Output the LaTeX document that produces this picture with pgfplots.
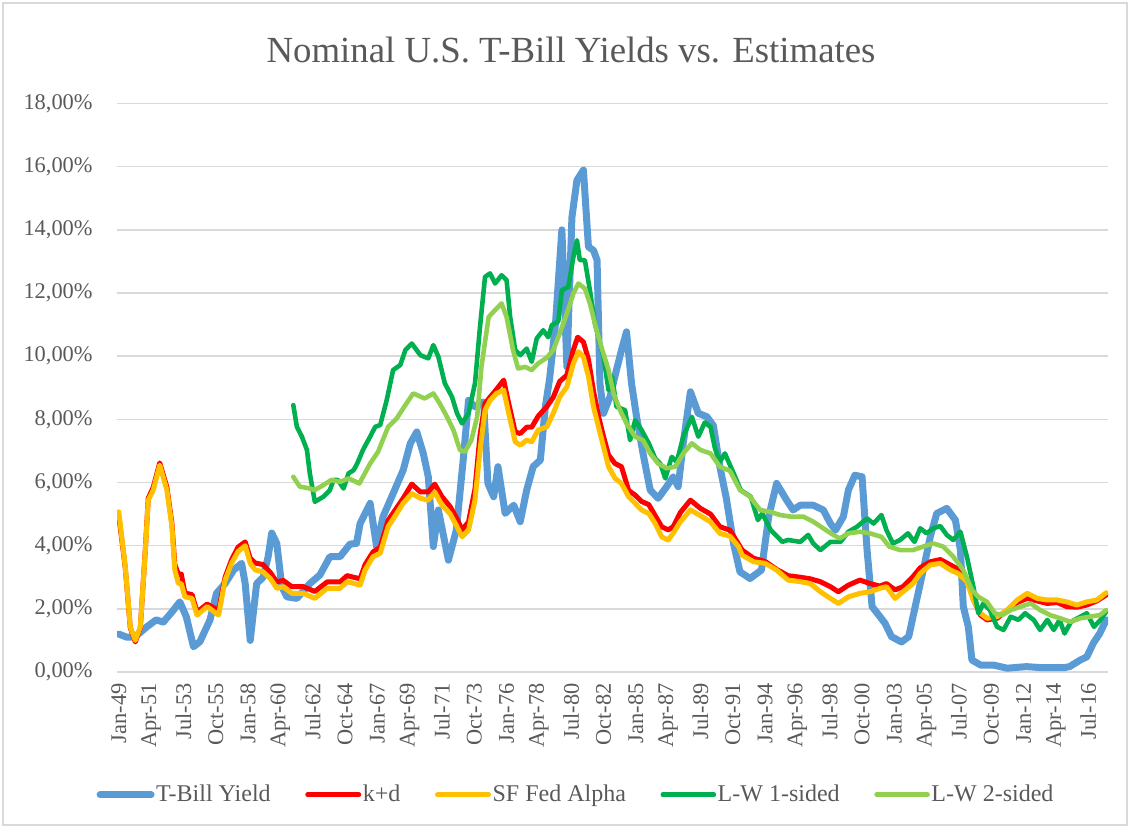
\documentclass[border=0pt]{standalone}
\usepackage{fontspec}
\setmainfont{Liberation Serif}
\usepackage{pgfplots}
\pgfplotsset{compat=1.18}
\definecolor{cBlue}{HTML}{5B9BD5}
\definecolor{cRed}{HTML}{FF0000}
\definecolor{cYel}{HTML}{FFC000}
\definecolor{cDGreen}{HTML}{00B050}
\definecolor{cLGreen}{HTML}{92D050}
\definecolor{txt}{HTML}{595959}
\definecolor{gridc}{HTML}{D9D9D9}
\begin{document}
\begin{tikzpicture}[x=1pt,y=1pt]
\useasboundingbox (0,0) rectangle (565,414);
\draw[gridc, line width=0.6pt] (1.5,1.5) rectangle (563.5,412.5);
\node[text=txt, font=\fontsize{18.4}{22}\selectfont] at (285.5,389) {Nominal U.S. T-Bill Yields vs. Estimates};
\begin{axis}[
  at={(58.5pt,78pt)}, anchor=south west, scale only axis,
  width=495.5pt, height=284.25pt,
  xmin=1948.875, xmax=2017.875, ymin=0, ymax=18,
  axis line style={draw=none},
  major tick length=0pt,
  ymajorgrids, grid style={gridc, line width=0.75pt},
  ytick={0,2,4,6,8,10,12,14,16,18},
  /pgf/number format/assume math mode=true,
  yticklabel={\pgfmathprintnumber[fixed,fixed zerofill,precision=2,use comma]{\tick}\%},
  yticklabel style={anchor=east, inner sep=0pt, xshift=-12pt, text=txt, font=\fontsize{11.2}{13}\selectfont},
  xtick={1949,1951.25,1953.5,1955.75,1958,1960.25,1962.5,1964.75,1967,1969.25,1971.5,1973.75,1976,1978.25,1980.5,1982.75,1985,1987.25,1989.5,1991.75,1994,1996.25,1998.5,2000.75,2003,2005.25,2007.5,2009.75,2012,2014.25,2016.5},
  xticklabels={Jan-49,Apr-51,Jul-53,Oct-55,Jan-58,Apr-60,Jul-62,Oct-64,Jan-67,Apr-69,Jul-71,Oct-73,Jan-76,Apr-78,Jul-80,Oct-82,Jan-85,Apr-87,Jul-89,Oct-91,Jan-94,Apr-96,Jul-98,Oct-00,Jan-03,Apr-05,Jul-07,Oct-09,Jan-12,Apr-14,Jul-16},
  xticklabel style={rotate=90, anchor=east, inner xsep=5.5pt, inner ysep=0pt, text=txt, font=\fontsize{11.2}{13}\selectfont},
  legend columns=5,
  legend style={draw=none, fill=none, at={(0.463,-0.216)}, anchor=center, font=\fontsize{12}{14}\selectfont, text=txt, inner sep=0pt, nodes={inner sep=0.8pt}, /tikz/every even column/.append style={column sep=16.5pt}},
  legend image code/.code={\draw[#1, line cap=round] (0pt,0pt) -- (25.5pt,0pt);},
  every axis plot/.append style={no markers, line join=round, line cap=round},
]
\addplot[cBlue, line width=3.5pt] coordinates {
(1949.0,1.2)(1949.57,1.1)(1950.1,1.1)(1950.95,1.43)(1951.6,1.65)(1952.1,1.58)(1952.7,1.9)(1953.25,2.22)(1953.7,1.75)(1954.2,0.8)(1954.65,0.96)(1955.35,1.65)(1955.8,2.49)(1956.4,2.8)(1957.0,3.23)(1957.55,3.44)(1957.8,2.8)(1958.15,1.0)(1958.6,2.8)(1959.05,3.0)(1959.4,3.65)(1959.65,4.4)(1960.0,4.07)(1960.35,2.7)(1960.7,2.38)(1961.4,2.33)(1962.3,2.8)(1963.0,3.07)(1963.7,3.65)(1964.4,3.65)(1965.1,4.05)(1965.55,4.07)(1965.8,4.7)(1966.5,5.34)(1966.95,3.97)(1967.4,4.92)(1968.1,5.65)(1968.8,6.39)(1969.3,7.24)(1969.75,7.6)(1970.2,6.92)(1970.55,6.18)(1970.9,3.97)(1971.25,5.13)(1971.95,3.54)(1972.5,4.49)(1973.0,6.81)(1973.35,8.6)(1973.8,8.4)(1974.4,8.55)(1974.7,5.97)(1975.1,5.55)(1975.4,6.5)(1975.9,5.02)(1976.5,5.28)(1976.95,4.76)(1977.4,5.76)(1977.85,6.5)(1978.35,6.71)(1978.7,8.4)(1979.0,9.3)(1979.4,11.0)(1979.85,14.0)(1980.2,9.66)(1980.55,14.4)(1980.9,15.57)(1981.35,15.89)(1981.7,13.46)(1982.05,13.35)(1982.3,13.04)(1982.5,9.14)(1982.75,8.19)(1983.2,8.71)(1983.65,9.56)(1984.0,10.19)(1984.35,10.77)(1984.7,9.14)(1985.05,8.08)(1985.5,6.92)(1986.0,5.76)(1986.55,5.5)(1987.15,5.87)(1987.6,6.18)(1987.95,5.87)(1988.3,7.24)(1988.8,8.87)(1989.35,8.19)(1989.95,8.08)(1990.4,7.8)(1990.85,6.5)(1991.3,5.5)(1991.8,4.07)(1992.25,3.17)(1992.95,2.96)(1993.75,3.23)(1994.25,4.92)(1994.8,5.97)(1995.5,5.44)(1995.95,5.13)(1996.45,5.28)(1997.35,5.28)(1998.05,5.13)(1998.55,4.7)(1998.9,4.49)(1999.45,4.92)(1999.8,5.76)(2000.25,6.23)(2000.75,6.18)(2001.1,3.86)(2001.45,2.07)(2002.0,1.75)(2002.35,1.54)(2002.8,1.12)(2003.5,0.95)(2004.0,1.12)(2004.45,2.07)(2005.0,3.2)(2005.5,4.28)(2005.95,5.02)(2006.65,5.18)(2007.25,4.81)(2007.6,3.86)(2007.8,2.07)(2008.15,1.43)(2008.4,0.38)(2009.0,0.22)(2009.9,0.22)(2010.85,0.12)(2012.2,0.17)(2013.15,0.14)(2014.85,0.14)(2015.2,0.17)(2015.95,0.38)(2016.4,0.48)(2016.85,0.91)(2017.3,1.22)(2017.75,1.65)
};
\addlegendentry{T-Bill Yield}
\addplot[cRed, line width=2.5pt] coordinates {
(1949.0,4.95)(1949.45,3.3)(1949.8,1.4)(1950.15,0.95)(1950.5,1.4)(1950.85,3.9)(1951.05,5.5)(1951.4,5.85)(1951.85,6.62)(1952.35,5.85)(1952.7,4.7)(1952.9,3.4)(1953.15,3.1)(1953.35,3.1)(1953.6,2.5)(1954.1,2.45)(1954.45,1.9)(1955.15,2.15)(1955.95,1.95)(1956.4,3.0)(1956.85,3.55)(1957.3,3.95)(1957.8,4.12)(1958.15,3.6)(1958.5,3.45)(1959.05,3.4)(1959.55,3.15)(1960.0,2.85)(1960.45,2.9)(1961.05,2.7)(1961.85,2.7)(1962.65,2.55)(1963.5,2.85)(1964.4,2.85)(1964.9,3.05)(1965.8,2.95)(1966.15,3.4)(1966.7,3.8)(1967.2,3.95)(1967.75,4.8)(1968.35,5.2)(1968.8,5.5)(1969.4,5.95)(1970.0,5.7)(1970.55,5.7)(1971.0,5.95)(1971.5,5.55)(1972.05,5.25)(1972.55,4.85)(1972.9,4.5)(1973.35,4.75)(1973.8,5.8)(1974.15,7.5)(1974.5,8.5)(1974.85,8.7)(1975.3,8.95)(1975.8,9.24)(1976.1,8.6)(1976.6,7.6)(1976.95,7.55)(1977.4,7.75)(1977.75,7.75)(1978.2,8.1)(1978.8,8.4)(1979.25,8.7)(1979.7,9.2)(1980.2,9.4)(1980.65,10.2)(1980.95,10.6)(1981.35,10.45)(1981.7,9.9)(1982.05,8.9)(1982.4,8.1)(1982.75,7.45)(1983.1,6.87)(1983.55,6.6)(1984.0,6.5)(1984.5,5.75)(1984.95,5.6)(1985.4,5.4)(1985.9,5.3)(1986.35,4.95)(1986.8,4.6)(1987.25,4.5)(1987.6,4.6)(1988.1,5.05)(1988.8,5.44)(1989.5,5.18)(1990.2,5.0)(1990.85,4.6)(1991.55,4.49)(1992.15,4.05)(1992.4,3.86)(1993.2,3.6)(1994.0,3.5)(1994.8,3.25)(1995.6,3.05)(1996.45,3.0)(1997.15,2.95)(1997.85,2.86)(1998.55,2.7)(1999.1,2.54)(1999.8,2.75)(2000.6,2.91)(2001.3,2.8)(2002.0,2.72)(2002.45,2.8)(2003.05,2.6)(2003.6,2.7)(2004.3,3.02)(2004.8,3.3)(2005.5,3.49)(2006.2,3.56)(2006.9,3.39)(2007.45,3.25)(2008.05,2.91)(2008.5,2.3)(2009.0,1.8)(2009.45,1.65)(2010.15,1.7)(2010.85,1.95)(2011.55,2.2)(2012.25,2.33)(2012.95,2.25)(2013.65,2.17)(2014.35,2.2)(2015.0,2.07)(2015.7,2.05)(2016.4,2.12)(2017.1,2.25)(2017.75,2.44)
};
\addlegendentry{k+d}
\addplot[cYel, line width=2.5pt] coordinates {
(1949.0,5.07)(1949.45,3.33)(1949.8,1.43)(1950.15,1.0)(1950.5,1.43)(1950.85,3.86)(1951.05,5.44)(1951.4,5.76)(1951.85,6.55)(1952.35,5.76)(1952.7,4.6)(1952.9,3.23)(1953.15,2.8)(1953.35,2.8)(1953.6,2.38)(1954.1,2.33)(1954.45,1.8)(1955.15,2.07)(1955.95,1.8)(1956.4,2.91)(1956.85,3.44)(1957.3,3.81)(1957.8,4.0)(1958.15,3.44)(1958.5,3.23)(1959.05,3.17)(1959.55,2.96)(1960.0,2.65)(1960.45,2.7)(1961.05,2.49)(1961.85,2.49)(1962.65,2.33)(1963.5,2.65)(1964.4,2.65)(1964.9,2.86)(1965.8,2.75)(1966.15,3.23)(1966.7,3.65)(1967.2,3.76)(1967.75,4.6)(1968.35,5.02)(1968.8,5.34)(1969.4,5.65)(1970.0,5.5)(1970.55,5.44)(1971.0,5.7)(1971.5,5.28)(1972.05,5.02)(1972.55,4.6)(1972.9,4.28)(1973.35,4.49)(1973.8,5.44)(1974.15,7.02)(1974.5,8.29)(1974.85,8.6)(1975.3,8.82)(1975.8,8.92)(1976.1,8.29)(1976.6,7.29)(1976.95,7.18)(1977.4,7.34)(1977.75,7.29)(1978.2,7.66)(1978.8,7.76)(1979.25,8.19)(1979.7,8.71)(1980.2,9.03)(1980.65,9.77)(1981.0,10.14)(1981.35,9.98)(1981.7,9.35)(1982.05,8.4)(1982.4,7.76)(1982.75,7.13)(1983.1,6.5)(1983.55,6.13)(1984.0,5.97)(1984.5,5.55)(1984.95,5.34)(1985.4,5.13)(1985.9,5.02)(1986.35,4.7)(1986.8,4.28)(1987.25,4.18)(1987.6,4.39)(1988.1,4.76)(1988.8,5.13)(1989.5,4.95)(1990.2,4.75)(1990.85,4.39)(1991.55,4.3)(1992.15,3.97)(1992.4,3.7)(1993.2,3.49)(1994.0,3.44)(1994.8,3.23)(1995.6,2.91)(1996.45,2.86)(1997.15,2.8)(1997.85,2.54)(1998.55,2.33)(1999.1,2.17)(1999.8,2.38)(2000.6,2.49)(2001.3,2.54)(2002.0,2.65)(2002.45,2.7)(2003.05,2.33)(2003.6,2.54)(2004.3,2.8)(2004.8,3.12)(2005.5,3.39)(2006.2,3.44)(2006.9,3.23)(2007.45,3.12)(2008.05,2.86)(2008.5,2.28)(2009.0,1.86)(2009.45,1.7)(2010.15,1.75)(2010.85,1.96)(2011.55,2.28)(2012.25,2.49)(2012.95,2.33)(2013.65,2.28)(2014.35,2.28)(2015.0,2.22)(2015.7,2.12)(2016.4,2.22)(2017.1,2.28)(2017.75,2.51)
};
\addlegendentry{SF Fed Alpha}
\addplot[cDGreen, line width=2.3pt] coordinates {
(1961.15,8.45)(1961.4,7.76)(1961.75,7.45)(1962.1,7.03)(1962.3,6.29)(1962.65,5.39)(1963.25,5.55)(1963.7,5.76)(1963.95,6.08)(1964.25,6.08)(1964.65,5.81)(1965.0,6.29)(1965.35,6.39)(1965.6,6.6)(1966.0,7.03)(1966.5,7.45)(1966.85,7.76)(1967.2,7.82)(1967.65,8.6)(1968.1,9.56)(1968.6,9.72)(1968.95,10.19)(1969.4,10.4)(1970.0,10.03)(1970.55,9.93)(1970.9,10.35)(1971.25,9.98)(1971.7,9.14)(1972.2,8.71)(1972.55,8.19)(1972.9,7.87)(1973.35,8.19)(1973.8,9.14)(1974.15,10.93)(1974.5,12.51)(1974.85,12.62)(1975.2,12.3)(1975.65,12.56)(1976.0,12.41)(1976.25,11.24)(1976.6,10.19)(1976.95,10.03)(1977.4,10.24)(1977.75,9.82)(1978.1,10.56)(1978.55,10.82)(1978.9,10.6)(1979.15,10.98)(1979.6,11.1)(1979.85,12.09)(1980.3,12.19)(1980.65,13.14)(1980.9,13.67)(1981.1,13.04)(1981.45,13.04)(1981.8,12.09)(1982.15,11.03)(1982.75,9.98)(1983.1,8.92)(1983.35,9.35)(1983.65,8.4)(1984.25,8.29)(1984.6,7.34)(1984.95,7.97)(1985.4,7.66)(1985.9,7.24)(1986.35,6.76)(1986.7,6.6)(1987.05,6.13)(1987.5,6.81)(1987.85,6.65)(1988.3,7.45)(1988.9,8.08)(1989.35,7.45)(1989.8,7.9)(1990.2,7.76)(1990.5,7.1)(1990.85,6.65)(1991.2,6.92)(1991.8,6.3)(1992.3,5.76)(1993.0,5.55)(1993.5,4.81)(1993.8,5.02)(1994.4,4.49)(1995.2,4.12)(1995.6,4.18)(1996.45,4.12)(1997.0,4.34)(1997.35,4.07)(1997.85,3.86)(1998.55,4.12)(1999.25,4.12)(1999.8,4.44)(2000.4,4.6)(2001.1,4.86)(2001.55,4.7)(2002.1,4.97)(2002.45,4.49)(2002.9,4.07)(2003.4,4.18)(2003.95,4.39)(2004.4,4.12)(2004.8,4.55)(2005.25,4.39)(2005.7,4.55)(2006.2,4.62)(2006.65,4.34)(2007.1,4.18)(2007.6,4.44)(2008.05,3.65)(2008.5,2.7)(2008.85,1.86)(2009.2,2.17)(2009.65,1.96)(2010.15,1.43)(2010.6,1.33)(2011.1,1.75)(2011.65,1.65)(2012.1,1.86)(2012.7,1.65)(2013.15,1.33)(2013.65,1.65)(2014.1,1.33)(2014.5,1.65)(2014.85,1.22)(2015.3,1.59)(2015.95,1.75)(2016.4,1.86)(2016.9,1.43)(2017.35,1.65)(2017.75,1.91)
};
\addlegendentry{L-W 1-sided}
\addplot[cLGreen, line width=2.3pt] coordinates {
(1961.15,6.18)(1961.6,5.87)(1962.3,5.81)(1962.65,5.76)(1963.25,5.92)(1963.8,6.08)(1964.4,6.02)(1965.0,6.13)(1965.75,5.97)(1966.5,6.6)(1967.05,6.97)(1967.75,7.76)(1968.35,8.03)(1968.95,8.45)(1969.5,8.82)(1970.3,8.66)(1970.9,8.82)(1971.35,8.5)(1971.85,8.08)(1972.3,7.66)(1972.75,7.03)(1973.1,6.97)(1973.55,7.34)(1973.95,8.08)(1974.25,9.66)(1974.75,11.24)(1975.2,11.46)(1975.65,11.67)(1976.0,11.24)(1976.45,10.19)(1976.8,9.61)(1977.3,9.66)(1977.75,9.56)(1978.2,9.77)(1978.8,9.95)(1979.25,10.19)(1979.7,10.72)(1980.2,11.35)(1980.65,11.98)(1981.0,12.3)(1981.45,12.14)(1981.8,11.67)(1982.15,11.03)(1982.6,10.29)(1983.1,9.56)(1983.45,8.82)(1983.9,8.29)(1984.35,7.87)(1984.95,7.45)(1985.5,7.34)(1986.0,6.92)(1986.55,6.6)(1987.15,6.45)(1987.75,6.5)(1988.3,6.92)(1988.9,7.24)(1989.5,7.03)(1990.2,6.92)(1990.85,6.5)(1991.55,6.37)(1992.25,5.76)(1992.95,5.55)(1993.65,5.13)(1994.35,5.07)(1995.05,4.97)(1995.75,4.92)(1996.65,4.92)(1997.35,4.76)(1998.05,4.55)(1998.75,4.34)(1999.2,4.23)(1999.8,4.39)(2000.6,4.44)(2001.3,4.39)(2002.1,4.28)(2002.65,3.97)(2003.4,3.86)(2004.3,3.86)(2005.0,3.97)(2005.7,4.07)(2006.4,3.97)(2007.1,3.65)(2007.8,3.23)(2008.4,2.6)(2008.85,2.38)(2009.45,2.22)(2010.0,1.86)(2010.5,1.8)(2011.1,1.96)(2011.8,2.07)(2012.5,2.17)(2013.15,1.96)(2013.85,1.8)(2014.55,1.7)(2015.25,1.59)(2015.95,1.7)(2016.6,1.75)(2017.3,1.8)(2017.75,1.96)
};
\addlegendentry{L-W 2-sided}
\end{axis}
\end{tikzpicture}
\end{document}
